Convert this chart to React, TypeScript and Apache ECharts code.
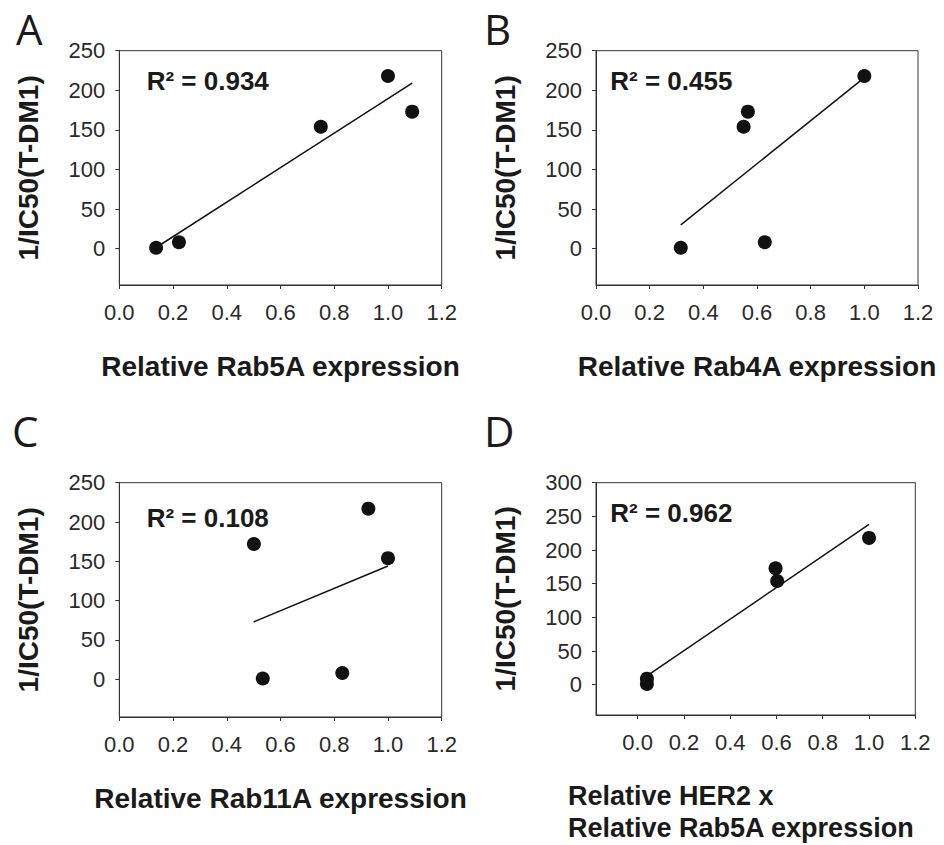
import React, { useEffect, useRef } from "react";
import * as echarts from "echarts";

// ---- data ----
const xTicks = [0, 0.2, 0.4, 0.6, 0.8, 1.0, 1.2];
const yTicks250 = [0, 50, 100, 150, 200, 250];
const yTicks300 = [0, 50, 100, 150, 200, 250, 300];

const rab5aX = [0.137, 0.222, 0.75, 1.0, 1.09];
const rab5aY = [1, 8, 154, 218, 173];
const rab5aTrend = [[0.14, 2], [1.09, 209]];

const rab4aX = [0.316, 0.55, 0.566, 0.629, 1.0];
const rab4aY = [1, 154, 173, 8, 218];
const rab4aTrend = [[0.316, 30], [1.0, 216]];

const rab11aX = [0.501, 0.534, 0.83, 0.927, 1.0];
const rab11aY = [172, 1, 8, 217, 154];
const rab11aTrend = [[0.5, 73], [1.0, 144]];

const her2X = [0.04, 0.04, 0.596, 0.603, 1.0];
const her2Y = [1, 9, 173, 154, 218];
const her2Trend = [[0.04, 13], [1.0, 238]];

const panelLetters = ["A", "B", "C", "D"];
const r2Labels = ["R\u00b2 = 0.934", "R\u00b2 = 0.455", "R\u00b2 = 0.108", "R\u00b2 = 0.962"];
const xTitles = ["Relative Rab5A expression", "Relative Rab4A expression", "Relative Rab11A expression", ""];
const xTitleD = "Relative HER2 x\nRelative Rab5A expression";
const yTitle = "1/IC50(T-DM1)";

const zip = (xs: number[], ys: number[]) => xs.map((x, i) => [x, ys[i]]);

export default function App() {
  const ref = useRef<HTMLDivElement>(null);
  useEffect(() => {
    if (!ref.current) return;
    const chart = echarts.init(ref.current, null, { renderer: "svg" });

    const grids = [
      { left: 119.3, top: 50.7, width: 322.4, height: 234.3 },
      { left: 596, top: 50.7, width: 322, height: 234.3 },
      { left: 119.3, top: 482.7, width: 322.4, height: 234.3 },
      { left: 596, top: 482.7, width: 319.3, height: 232.3 },
    ].map((g) => ({ ...g, show: true, borderColor: "#333", borderWidth: 1, backgroundColor: "transparent" }));

    const yMins = [-46, -46, -48, -45];
    const yMaxs = [250, 250, 250, 300];
    const xMins = [0, 0, 0, -0.18];

    const lineCol = "#333";
    const tickFont = { fontFamily: "Liberation Sans, Arial, sans-serif", fontSize: 22, color: "#2a2a2a" };
    const titleFont = { fontFamily: "Liberation Sans, Arial, sans-serif", fontSize: 28, fontWeight: "bold" as const, color: "#1a1a1a" };

    const xAxis = grids.map((_, i) => ({
      type: "value",
      gridIndex: i,
      min: xMins[i],
      max: 1.2,
      splitLine: { show: false },
      axisLine: { show: true, onZero: false, lineStyle: { color: lineCol, width: 1 } },
      axisTick: { show: true, inside: false, length: 4, lineStyle: { color: lineCol }, customValues: xTicks },
      axisLabel: { ...tickFont, margin: 16, customValues: xTicks, formatter: (v: number) => v.toFixed(1) },
      name: xTitles[i],
      nameLocation: "middle",
      nameGap: 67,
      nameTextStyle: titleFont,
    }));

    const yAxis = grids.map((_, i) => ({
      type: "value",
      gridIndex: i,
      min: yMins[i],
      max: yMaxs[i],
      splitLine: { show: false },
      axisLine: { show: true, onZero: false, lineStyle: { color: lineCol, width: 1 } },
      axisTick: { show: true, inside: false, length: 4, lineStyle: { color: lineCol }, customValues: i === 3 ? yTicks300 : yTicks250 },
      axisLabel: { ...tickFont, margin: 14, customValues: i === 3 ? yTicks300 : yTicks250, formatter: (v: number) => String(v) },
      name: yTitle,
      nameLocation: "middle",
      nameGap: 77,
      nameRotate: 90,
      nameTextStyle: titleFont,
    }));

    const pts = [zip(rab5aX, rab5aY), zip(rab4aX, rab4aY), zip(rab11aX, rab11aY), zip(her2X, her2Y)];
    const trends = [rab5aTrend, rab4aTrend, rab11aTrend, her2Trend];

    const series: any[] = [];
    pts.forEach((d, i) => {
      series.push({
        type: "line",
        xAxisIndex: i,
        yAxisIndex: i,
        data: trends[i],
        showSymbol: false,
        symbol: "none",
        lineStyle: { color: "#111", width: 1.5 },
        silent: true,
        z: 2,
      });
      series.push({
        type: "scatter",
        xAxisIndex: i,
        yAxisIndex: i,
        data: d,
        symbol: "circle",
        symbolSize: 14,
        itemStyle: { color: "#111", opacity: 1 },
        z: 3,
      });
    });

    const letterPos = [
      [16, 28],
      [484, 28],
      [12, 430],
      [484, 430],
    ];
    const r2Pos = [
      [146.7, 80.5],
      [610.3, 80.5],
      [146.7, 518.3],
      [610.3, 513.3],
    ];

    const graphic: any[] = [];
    panelLetters.forEach((l, i) => {
      graphic.push({
        type: "text",
        x: letterPos[i][0],
        y: letterPos[i][1],
        style: {
          text: l,
          fontFamily: "Open Sans, sans-serif",
          fontSize: 42,
          fontWeight: 400,
          fill: "#1a1a1a",
          textAlign: "left",
          textVerticalAlign: "middle",
        },
      });
    });
    r2Labels.forEach((t, i) => {
      graphic.push({
        type: "text",
        x: r2Pos[i][0],
        y: r2Pos[i][1],
        style: {
          text: t,
          fontFamily: "Liberation Sans, Arial, sans-serif",
          fontSize: 26,
          fontWeight: "bold",
          fill: "#1a1a1a",
          textAlign: "left",
          textVerticalAlign: "middle",
        },
      });
    });
    graphic.push({
      type: "text",
      x: 568,
      y: 780,
      style: {
        text: xTitleD,
        fontFamily: "Liberation Sans, Arial, sans-serif",
        fontSize: 27,
        fontWeight: "bold",
        fill: "#1a1a1a",
        textAlign: "left",
        textVerticalAlign: "top",
        lineHeight: 32,
      },
    });

    chart.setOption({
      animation: false,
      backgroundColor: "#fff",
      grid: grids,
      xAxis,
      yAxis,
      series,
      graphic,
    });
    return () => chart.dispose();
  }, []);

  return (
    <div
      ref={ref}
      style={{ position: "fixed", left: 0, top: 0, width: 944, height: 845, background: "#fff" }}
    />
  );
}
